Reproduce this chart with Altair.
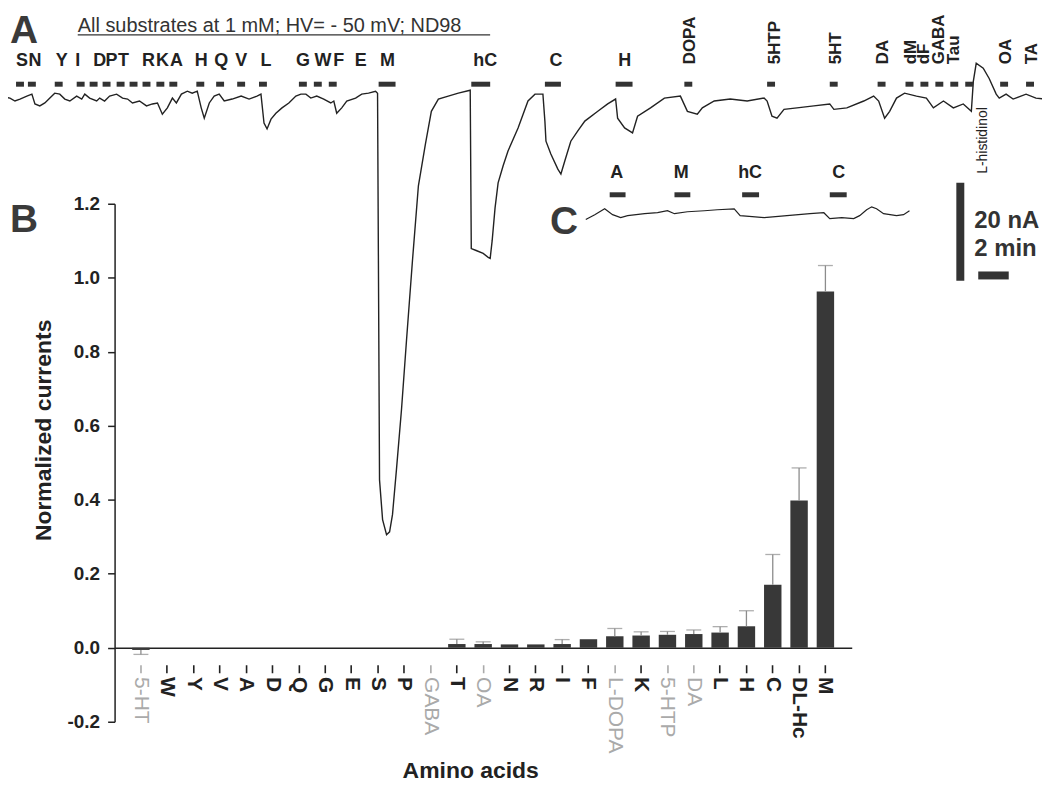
import numpy as np
import pandas as pd
import altair as alt

# ---------------- Panel B: normalized currents ----------------
substrates = ["5-HT", "W", "Y", "V", "A", "D", "Q", "G", "E", "S", "P", "GABA", "T", "OA",
              "N", "R", "I", "F", "L-DOPA", "K", "5-HTP", "DA", "L", "H", "C", "DL-Hc", "M"]
norm_current = [-0.006, 0, 0, 0, 0, 0, 0, 0, 0, 0, 0, 0, 0.010, 0.010, 0.009, 0.009, 0.010,
                0.023, 0.031, 0.033, 0.035, 0.037, 0.041, 0.058, 0.170, 0.398, 0.963]
sem = [0.012, 0, 0, 0, 0, 0, 0, 0, 0, 0, 0, 0, 0.013, 0.006, 0, 0, 0.012,
       0, 0.021, 0.010, 0.009, 0.011, 0.016, 0.042, 0.082, 0.088, 0.070]
non_amino = ["5-HT", "GABA", "OA", "L-DOPA", "5-HTP", "DA"]
y_ticks = [-0.2, 0.0, 0.2, 0.4, 0.6, 0.8, 1.0, 1.2]

# ---------------- Panel A: current trace (min, nA) ----------------
traceA_time = [0.00, 0.65, 0.98, 1.31, 1.76, 2.09, 2.29, 2.61, 2.94, 3.27, 3.59, 3.92, 4.25, 4.58, 5.03,
               5.36, 5.56, 5.88, 6.34, 6.54, 6.86, 7.19, 7.65, 8.04, 8.37, 8.69, 9.15, 9.61, 10.00, 10.33,
               10.65, 10.98, 11.31, 11.57, 11.90, 12.29, 12.61, 12.94, 13.20, 13.40,
               13.73, 14.05, 14.38, 14.71, 15.23, 15.82, 16.34, 16.86, 17.12, 17.32, 17.52, 17.78, 18.10,
               18.50, 18.95, 19.41, 19.74, 20.07, 20.39, 20.78, 21.24, 21.70, 21.90, 22.09, 22.42, 22.75,
               23.33, 23.73, 24.18, 24.64, 24.77,
               24.84, 24.90, 25.10, 25.36, 25.56, 25.75, 26.01, 26.34, 26.67, 27.06, 27.45, 27.91, 28.30,
               28.76, 29.41, 30.07, 30.85,
               30.92, 31.24, 31.70, 32.03, 32.16, 32.29, 32.48, 32.68, 33.01, 33.33, 33.99, 34.64, 35.10, 35.62,
               35.75, 35.82, 36.14, 36.60, 36.80, 37.06, 37.45, 37.91, 38.37, 39.22, 39.87, 40.39,
               40.52, 40.98, 41.50, 41.83, 42.68, 43.59, 44.64, 45.10, 45.75, 46.08, 46.86, 47.91, 49.02,
               50.13, 50.33, 50.65, 50.98, 51.44, 52.29, 53.40, 54.44, 54.71, 55.56, 56.67, 57.32, 57.65,
               58.04, 58.37, 58.82, 59.35, 60.13, 60.78, 61.24, 61.90, 62.55, 63.20, 63.73, 63.86, 64.05,
               64.51, 64.90, 65.36, 65.56, 66.01, 66.47, 67.32, 67.97, 68.50]
traceA_current = [-0.6, -1.0, -1.6, -1.2, -0.6, -0.2, -2.2, -2.6, -2.0, -1.0, 0.0, -0.2, -1.2, -1.6, -0.6,
                  -1.2, -0.2, -1.0, -1.6, -1.0, -1.6, -0.6, -0.2, -1.0, -1.2, -2.0, -1.6, -2.6, -2.2, -2.0,
                  -4.3, -3.0, -1.0, -2.0, -0.2, 0.4, 0.0, 0.4, -3.0, -5.1,
                  -2.0, -0.6, -0.2, -1.6, -1.2, -0.6, -1.2, -0.6, -0.2, -6.1, -7.3, -5.3, -4.1,
                  -3.0, -2.0, -0.6, -0.2, -0.2, -1.0, -0.6, -1.2, -2.0, -1.6, -4.1, -3.0, -1.6,
                  -1.0, -0.2, 0.0, 0.4, 0.0,
                  -42.3, -78.9, -87.0, -90.1, -89.5, -86.0, -76.8, -64.6, -50.4, -34.2, -18.9, -10.4, -3.7,
                  -1.2, -0.6, 0.0, 0.6,
                  -31.7, -32.1, -32.7, -33.5, -33.7, -30.1, -23.4, -18.3, -14.8, -11.8, -7.1, -1.6, -0.2, -0.2,
                  -5.7, -9.8, -12.4, -15.5, -16.5, -13.8, -9.8, -7.7, -5.7, -3.7, -2.2, -1.2,
                  -5.1, -7.1, -8.1, -4.7, -3.0, -1.0, -0.6, -3.7, -4.3, -3.0, -1.6, -1.2, -1.6,
                  -1.0, -1.6, -4.7, -5.1, -3.3, -3.0, -2.6, -2.2, -3.3, -3.0, -1.6, -0.6, -1.6,
                  -5.1, -3.7, -1.0, 0.0, -0.6, -1.0, -3.0, -1.6, -3.0, -2.2, -3.7, 2.4, 6.1,
                  5.1, 3.0, -0.2, -1.0, -0.2, -1.2, -0.2, -1.0, -1.2]
stimA_start = [1.05, 1.83, 3.59, 5.03, 5.88, 6.73, 7.65, 8.50, 9.35, 10.26, 11.11, 12.88, 14.18, 15.56,
               16.99, 19.61, 20.59, 21.57, 24.84, 30.92, 35.75, 40.39, 44.90, 50.33, 54.44, 57.58, 59.41,
               60.39, 61.37, 62.35, 63.33, 65.62, 67.32]
stimA_end = [1.57, 2.35, 4.11, 5.55, 6.40, 7.25, 8.17, 9.02, 9.87, 10.78, 11.63, 13.40, 14.70, 16.08,
             17.51, 20.13, 21.11, 22.09, 25.95, 32.16, 36.80, 41.50, 45.42, 50.85, 54.96, 58.10, 59.93,
             60.91, 61.89, 62.87, 63.85, 66.14, 67.84]
labelA_text = ["S", "N", "Y", "I", "D", "P", "T", "R", "K", "A", "H", "Q", "V", "L", "G", "W", "F", "E",
               "M", "hC", "C", "H"]
labelA_time = [1.44, 2.29, 4.05, 5.10, 6.54, 7.32, 8.10, 9.74, 10.65, 11.57, 13.20, 14.51, 15.82, 17.45,
               19.87, 21.18, 22.22, 23.66, 25.42, 31.83, 36.47, 40.98]
rotA_text = ["DOPA", "5HTP", "5HT", "DA", "dM", "dF", "GABA", "Tau", "OA", "TA"]
rotA_time = [45.29, 50.85, 54.84, 57.91, 59.74, 60.65, 61.63, 62.61, 66.01, 67.71]
histidinol_text = "L-histidinol"
title_A = "All substrates at 1 mM; HV= - 50 mV; ND98"

# ---------------- Panel C: control trace (min, nA) ----------------
traceC_time = [0, 0.59, 1.24, 1.76, 2.29, 2.75, 3.86, 4.71, 5.36, 5.82, 6.67, 7.78, 8.63, 9.74, 10.13,
               10.92, 11.70, 13.20, 14.71, 15.62, 16.01, 16.80, 17.58, 17.97, 18.43, 18.76, 19.08, 19.54,
               20.39, 20.85, 21.24]
traceC_current = [-1.4, -0.4, 0.8, -0.4, -1.0, -0.6, -0.2, 0, 0.4, -0.2, 0.2, 0.4, 0.6, 0.8, -0.6,
                  -0.8, -1.0, -0.6, -0.2, 0, -1.2, -1.0, -1.2, -0.6, 0.6, 1.2, 0.8, -0.2,
                  -0.6, -0.4, 0.4]
stimC_start = [1.57, 5.82, 10.26, 16.01]
stimC_end = [2.61, 6.86, 11.37, 17.12]
labelC_text = ["A", "M", "hC", "C"]
labelC_time = [2.03, 6.27, 10.78, 16.60]

SCALE_NA = 20
SCALE_MIN = 2

# ---------------- layout (page pixels) ----------------
FONT = "Liberation Sans"
INK = "#222222"
DARK = "#333333"
GREY = "#aaaaaa"
PX_PER_MIN = 15.3
PX_PER_NA = 4.92
PL, PT, PW, PH = 115, 203, 740, 520
MARGIN = 8
TOTAL_W, TOTAL_H = 1038, 774
A_X0, A_Y0 = 0.0, 92.0
C_X0, C_Y0 = 588.0, 212.0


def tA(x):
    return (x - A_X0) / PX_PER_MIN


def iA(y):
    return (A_Y0 - y) / PX_PER_NA


def tC(x):
    return (x - C_X0) / PX_PER_MIN


def iC(y):
    return (C_Y0 - y) / PX_PER_NA


# ---------------- Panel B layer ----------------
dfB = pd.DataFrame({"sub": substrates, "val": norm_current, "sem": sem})
dfB["end"] = dfB["val"] + np.where(dfB["val"] < 0, -dfB["sem"], dfB["sem"])
dfE = dfB[dfB["sem"] > 0]

grey_test = "indexof(" + str(non_amino) + ", datum.value) >= 0"
y_zero_px = PT + (y_ticks[-1] - 0) / (y_ticks[-1] - y_ticks[0]) * PH

x_axis = alt.Axis(
    title="Amino acids", orient="bottom", offset=-(PT + PH - y_zero_px),
    labelAngle=90, labelFontSize=21, labelOverlap=False, labelPadding=4,
    labelColor={"condition": {"test": grey_test, "value": GREY}, "value": INK},
    labelFontWeight={"condition": {"test": grey_test, "value": "normal"}, "value": "bold"},
    tickColor={"condition": {"test": grey_test, "value": GREY}, "value": INK},
    tickSize=25, tickDash=[0, 17, 8, 40], tickWidth=1.6,
    domainColor=INK, domainWidth=1.5,
    titleFontSize=23, titleFontWeight="bold", titleColor=INK,
    titleX=472 - PL, titleY=779 - y_zero_px, titleBaseline="alphabetic", titleAlign="center",
)
y_axis = alt.Axis(
    title="Normalized currents", values=y_ticks, grid=False,
    labelExpr="replace(format(datum.value, '.1f'), '\u2212', '-')",
    labelFontSize=19, labelFontWeight="bold", labelColor=INK, labelPadding=8,
    tickSize=7, tickWidth=1.5, tickColor=INK, domainColor=INK, domainWidth=1.5,
    titleFontSize=23, titleFontWeight="bold", titleColor=INK,
    titleX=44 - PL, titleY=430 - PT, titleAngle=270, titleAlign="center", titleBaseline="middle",
)
xB = alt.X("sub:N", sort=substrates, scale=alt.Scale(paddingInner=0.338, paddingOuter=0.669), axis=x_axis)
scale_yB = alt.Scale(domain=[y_ticks[0], y_ticks[-1]], nice=False, zero=False)

bars = alt.Chart(dfB).mark_bar(color="#383838").encode(
    x=xB, y=alt.Y("val:Q", scale=scale_yB, axis=y_axis), y2=alt.datum(0))
err_rule = alt.Chart(dfE).mark_rule(color="#8c8c8c", strokeWidth=1.3).encode(
    x=xB, y=alt.Y("val:Q", scale=scale_yB, axis=y_axis), y2="end:Q")
err_cap = alt.Chart(dfE).mark_tick(color="#8c8c8c", thickness=1.3, size=15).encode(
    x=xB, y=alt.Y("end:Q", scale=scale_yB, axis=y_axis))
layerB = alt.layer(bars, err_rule, err_cap)

# ---------------- Panel A layer ----------------
scale_tA = alt.Scale(domain=[tA(PL), tA(PL + PW)], nice=False, zero=False)
scale_iA = alt.Scale(domain=[iA(PT + PH), iA(PT)], nice=False, zero=False)
XA = alt.X("t:Q", scale=scale_tA, axis=None)
YA = alt.Y("i:Q", scale=scale_iA, axis=None)

dfA = pd.DataFrame({"t": traceA_time, "i": traceA_current, "o": range(len(traceA_time))})
lineA = alt.Chart(dfA).mark_line(color=INK, strokeWidth=1.4).encode(x=XA, y=YA, order="o:Q")

dfStimA = pd.DataFrame({"t": stimA_start, "t2": stimA_end, "i": iA(83)})
dashA = alt.Chart(dfStimA).mark_rule(color=DARK, strokeWidth=5).encode(x=XA, x2="t2:Q", y=YA)

dfLabA = pd.DataFrame({"label": labelA_text, "t": labelA_time, "i": iA(64.5)})
labA = alt.Chart(dfLabA).mark_text(font=FONT, fontSize=18, fontWeight="bold", color=INK,
                                   align="center", baseline="alphabetic").encode(x=XA, y=YA, text="label:N")

dfRotA = pd.DataFrame({"label": rotA_text, "t": rotA_time, "i": iA(63)})
rotA = alt.Chart(dfRotA).mark_text(font=FONT, fontSize=17, fontWeight="bold", color=INK, angle=270,
                                   align="left", baseline="middle").encode(x=XA, y=YA, text="label:N")

dfTitle = pd.DataFrame({"label": [title_A], "t": [tA(78)], "i": [iA(30.5)]})
titleA = alt.Chart(dfTitle).mark_text(font=FONT, fontSize=20, color=DARK, align="left",
                                      baseline="alphabetic").encode(x=XA, y=YA, text="label:N")
dfUnder = pd.DataFrame({"t": [tA(78)], "t2": [tA(492)], "i": [iA(33.5)]})
underline = alt.Chart(dfUnder).mark_rule(color=DARK, strokeWidth=1.3).encode(x=XA, x2="t2:Q", y=YA)

dfHis = pd.DataFrame({"label": [histidinol_text], "t": [tA(987)], "i": [iA(173)]})
his = alt.Chart(dfHis).mark_text(font=FONT, fontSize=14, color=INK, angle=270, align="left",
                                 baseline="middle").encode(x=XA, y=YA, text="label:N")

dfSbV = pd.DataFrame({"t": [tA(964)], "i": [iA(182)], "i2": [iA(182) - SCALE_NA]})
sbV = alt.Chart(dfSbV).mark_rule(color=DARK, strokeWidth=8).encode(x=XA, y=YA, y2="i2:Q")
dfSbH = pd.DataFrame({"t": [tA(982)], "t2": [tA(982) + SCALE_MIN], "i": [iA(275)]})
sbH = alt.Chart(dfSbH).mark_rule(color=DARK, strokeWidth=8).encode(x=XA, x2="t2:Q", y=YA)
dfSbT = pd.DataFrame({"label": [f"{SCALE_NA} nA", f"{SCALE_MIN} min"], "t": [tA(978), tA(978)],
                      "i": [iA(227), iA(255)]})
sbT = alt.Chart(dfSbT).mark_text(font=FONT, fontSize=24, fontWeight="bold", color=DARK, align="left",
                                 baseline="alphabetic").encode(x=XA, y=YA, text="label:N")

dfLet = pd.DataFrame({"label": ["A", "B", "C"], "t": [tA(10), tA(10), tA(552)],
                      "i": [iA(42), iA(231), iA(233)]})
letters = alt.Chart(dfLet).mark_text(font=FONT, fontSize=39, fontWeight="bold", color="#3a3a3a",
                                     align="left", baseline="alphabetic").encode(x=XA, y=YA, text="label:N")

layerA = alt.layer(lineA, dashA, labA, rotA, titleA, underline, his, sbV, sbH, sbT, letters)

# ---------------- Panel C layer ----------------
scale_tC = alt.Scale(domain=[tC(PL), tC(PL + PW)], nice=False, zero=False)
scale_iC = alt.Scale(domain=[iC(PT + PH), iC(PT)], nice=False, zero=False)
XC = alt.X("t:Q", scale=scale_tC, axis=None)
YC = alt.Y("i:Q", scale=scale_iC, axis=None)

dfC = pd.DataFrame({"t": traceC_time, "i": traceC_current, "o": range(len(traceC_time))})
lineC = alt.Chart(dfC).mark_line(color=INK, strokeWidth=1.2).encode(x=XC, y=YC, order="o:Q")
dfStimC = pd.DataFrame({"t": stimC_start, "t2": stimC_end, "i": iC(194)})
dashC = alt.Chart(dfStimC).mark_rule(color=DARK, strokeWidth=5).encode(x=XC, x2="t2:Q", y=YC)
dfLabC = pd.DataFrame({"label": labelC_text, "t": labelC_time, "i": iC(177)})
labC = alt.Chart(dfLabC).mark_text(font=FONT, fontSize=18, fontWeight="bold", color=INK,
                                   align="center", baseline="alphabetic").encode(x=XC, y=YC, text="label:N")
layerC = alt.layer(lineC, dashC, labC)

# ---------------- compose ----------------
pad_left = PL - MARGIN
pad_top = PT - MARGIN
chart = alt.layer(layerB, layerA, layerC).resolve_scale(
    x="independent", y="independent"
).properties(
    width=PW, height=PH,
    autosize=alt.AutoSizeParams(type="none"),
    padding={"left": pad_left, "top": pad_top,
             "right": TOTAL_W - pad_left - PW, "bottom": TOTAL_H - pad_top - PH},
    background="white",
).configure_view(stroke=None).configure_axis(labelFont=FONT, titleFont=FONT)

chart.save("out.html", embed_options={"renderer": "svg", "actions": False})
